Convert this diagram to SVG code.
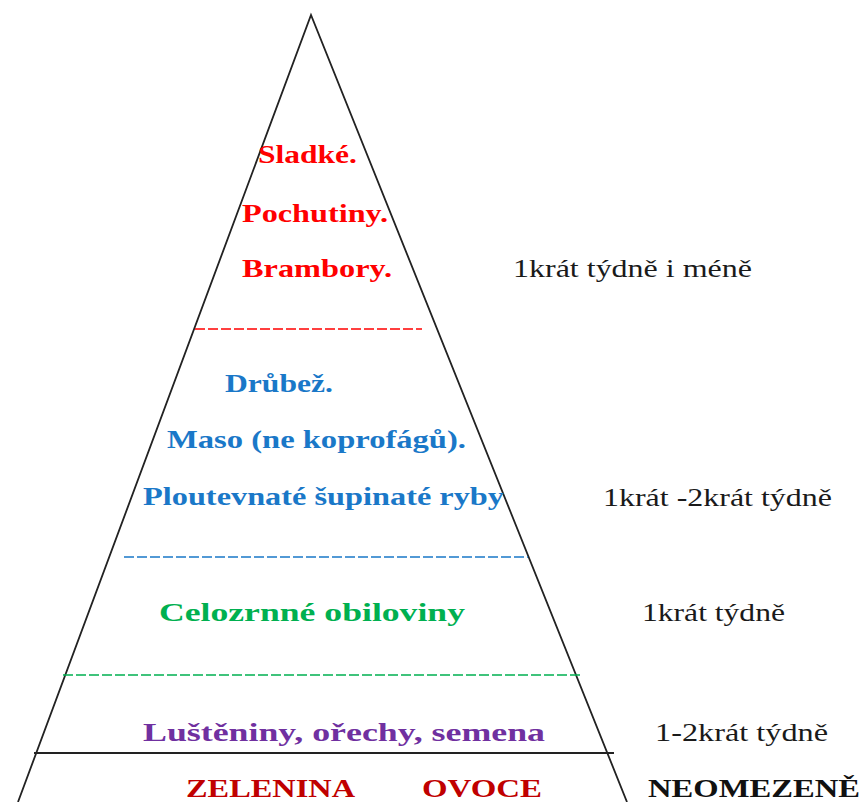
<svg xmlns="http://www.w3.org/2000/svg" width="865" height="802" viewBox="0 0 865 802">
<style>
.b{font-family:"Liberation Serif","Times New Roman",serif;font-weight:bold;font-size:25px}
.r{font-family:"Liberation Serif","Times New Roman",serif;font-size:25px;fill:#1a1a1a}
.red{fill:#ff0000}.blue{fill:#1a78c8}.green{fill:#00b050}.purple{fill:#7030a0}.dred{fill:#c00000}
.edge{stroke:#222;stroke-width:1.8;fill:none}
.dash{stroke-width:1.6;stroke-dasharray:10 3;fill:none}
</style>
<rect width="865" height="802" fill="#fff"/>
<g id="pyramid">
<polyline class="edge" points="18,802 311,15 627,802"/>
<line class="edge" x1="34" y1="753" x2="614" y2="753"/>
</g>
<g id="dividers">
<line class="dash" stroke="#ff0000" x1="195" y1="329" x2="422" y2="329"/>
<line class="dash" stroke="#1a78c8" x1="124" y1="557" x2="528" y2="557"/>
<line class="dash" stroke="#00b050" x1="63" y1="675" x2="580" y2="675"/>
</g>
<g id="tier-sweets">
<text class="b red" x="258" y="163" textLength="99" lengthAdjust="spacingAndGlyphs">Sladké.</text>
<text class="b red" x="242" y="222" textLength="146" lengthAdjust="spacingAndGlyphs">Pochutiny.</text>
<text class="b red" x="242" y="277" textLength="150" lengthAdjust="spacingAndGlyphs">Brambory.</text>
<text class="r" x="513" y="277" textLength="239" lengthAdjust="spacingAndGlyphs">1krát týdně i méně</text>
</g>
<g id="tier-meat">
<text class="b blue" x="225" y="392" textLength="108" lengthAdjust="spacingAndGlyphs">Drůbež.</text>
<text class="b blue" x="167" y="448" textLength="299" lengthAdjust="spacingAndGlyphs">Maso (ne koprofágů).</text>
<text class="b blue" x="143" y="505" textLength="361" lengthAdjust="spacingAndGlyphs">Ploutevnaté šupinaté ryby</text>
<text class="r" x="603" y="506" textLength="229" lengthAdjust="spacingAndGlyphs">1krát -2krát týdně</text>
</g>
<g id="tier-grains">
<text class="b green" x="159" y="621" textLength="306" lengthAdjust="spacingAndGlyphs">Celozrnné obiloviny</text>
<text class="r" x="642" y="621" textLength="143" lengthAdjust="spacingAndGlyphs">1krát týdně</text>
</g>
<g id="tier-legumes">
<text class="b purple" x="143" y="741" textLength="402" lengthAdjust="spacingAndGlyphs">Luštěniny, ořechy, semena</text>
<text class="r" x="655" y="741" textLength="173" lengthAdjust="spacingAndGlyphs">1-2krát týdně</text>
</g>
<g id="tier-base">
<text class="b dred" x="186" y="797" textLength="169" lengthAdjust="spacingAndGlyphs">ZELENINA</text>
<text class="b dred" x="422" y="797" textLength="120" lengthAdjust="spacingAndGlyphs">OVOCE</text>
<text class="b" x="648" y="797" fill="#111" textLength="212" lengthAdjust="spacingAndGlyphs">NEOMEZENĚ</text>
</g>
</svg>
